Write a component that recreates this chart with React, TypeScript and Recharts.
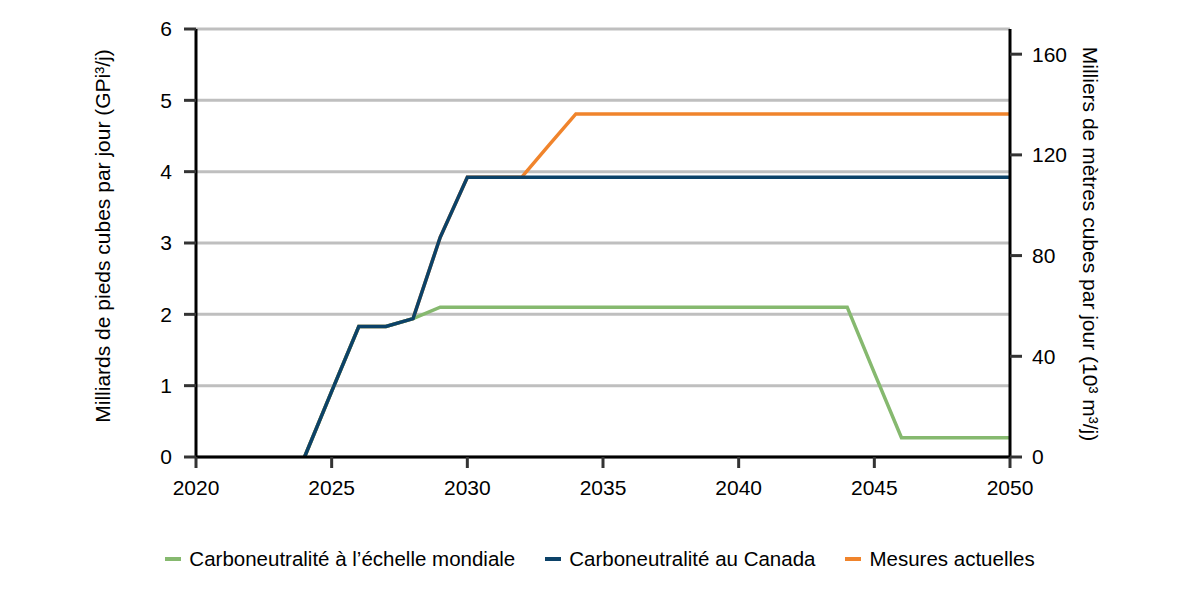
import { CartesianGrid, Label, Line, LineChart, XAxis, YAxis } from "recharts";

const YEARS = [
  2024, 2025, 2026, 2027, 2028, 2029, 2030, 2031, 2032, 2033, 2034, 2035, 2036, 2037,
  2038, 2039, 2040, 2041, 2042, 2043, 2044, 2045, 2046, 2047, 2048, 2049, 2050,
];
const MONDIALE = [
  0, 0.92, 1.83, 1.83, 1.94, 2.1, 2.1, 2.1, 2.1, 2.1, 2.1, 2.1, 2.1, 2.1,
  2.1, 2.1, 2.1, 2.1, 2.1, 2.1, 2.1, 1.18, 0.27, 0.27, 0.27, 0.27, 0.27,
];
const CANADA = [
  0, 0.92, 1.83, 1.83, 1.94, 3.08, 3.92, 3.92, 3.92, 3.92, 3.92, 3.92, 3.92, 3.92,
  3.92, 3.92, 3.92, 3.92, 3.92, 3.92, 3.92, 3.92, 3.92, 3.92, 3.92, 3.92, 3.92,
];
const ACTUELLES = [
  0, 0.92, 1.83, 1.83, 1.94, 3.08, 3.92, 3.92, 3.92, 4.37, 4.81, 4.81, 4.81, 4.81,
  4.81, 4.81, 4.81, 4.81, 4.81, 4.81, 4.81, 4.81, 4.81, 4.81, 4.81, 4.81, 4.81,
];
const X_TICKS = [2020, 2025, 2030, 2035, 2040, 2045, 2050];
const LEFT_TICKS = [0, 1, 2, 3, 4, 5, 6];
const RIGHT_TICKS = [0, 40, 80, 120, 160];

const SERIES = [
  { key: "mondiale", name: "Carboneutralité à l’échelle mondiale", color: "#86b96f" },
  { key: "canada", name: "Carboneutralité au Canada", color: "#0c4268" },
  { key: "actuelles", name: "Mesures actuelles", color: "#f0842c" },
];

const data = YEARS.map((year, i) => ({
  year,
  mondiale: MONDIALE[i],
  canada: CANADA[i],
  actuelles: ACTUELLES[i],
}));

const FONT = "'Liberation Sans', Arial, sans-serif";
const tickStyle = { fill: "#000", fontSize: 21, fontFamily: FONT };
const tickLine = { stroke: "#333", strokeWidth: 3 };
const axisLine = { stroke: "#000", strokeWidth: 3 };

export default function App() {
  return (
    <div style={{ position: "absolute", left: 0, top: 0, width: 1200, height: 600, background: "#fff", fontFamily: FONT }}>
      <LineChart width={1200} height={600} data={data} margin={{ top: 29, right: 0, bottom: 0, left: 0 }}>
        <CartesianGrid vertical={false} stroke="#bfbfbf" strokeWidth={3} yAxisId="left" />
        <XAxis
          dataKey="year"
          type="number"
          domain={[2020, 2050]}
          ticks={X_TICKS}
          height={143}
          tickSize={11}
          tickMargin={12}
          tick={tickStyle}
          tickLine={tickLine}
          axisLine={axisLine}
        />
        <YAxis
          yAxisId="left"
          domain={[0, 6]}
          ticks={LEFT_TICKS}
          width={196}
          tickSize={12}
          tickMargin={12}
          tick={tickStyle}
          tickLine={tickLine}
          axisLine={axisLine}
        >
          <Label
            content={() => (
              <text transform="translate(110,236) rotate(-90)" textAnchor="middle" fontSize={21} fontFamily={FONT} fill="#000">
                Milliards de pieds cubes par jour (GPi³/j)
              </text>
            )}
          />
        </YAxis>
        <YAxis
          yAxisId="right"
          orientation="right"
          domain={[0, 170]}
          ticks={RIGHT_TICKS}
          allowDataOverflow
          width={190}
          tickSize={12}
          tickMargin={10}
          tick={tickStyle}
          tickLine={tickLine}
          axisLine={axisLine}
        >
          <Label
            content={() => (
              <text transform="translate(1083,244) rotate(90)" textAnchor="middle" fontSize={21} fontFamily={FONT} fill="#000">
                Milliers de mètres cubes par jour (10³ m³/j)
              </text>
            )}
          />
        </YAxis>
        {[SERIES[2], SERIES[0], SERIES[1]].map((s) => (
          <Line
            key={s.key}
            yAxisId="left"
            dataKey={s.key}
            name={s.name}
            stroke={s.color}
            strokeWidth={3.5}
            dot={false}
            activeDot={false}
            strokeLinejoin="miter"
            isAnimationActive={false}
          />
        ))}
      </LineChart>
      <div style={{ position: "absolute", top: 547, left: 0, width: 1200, display: "flex", justifyContent: "center", gap: 30, fontSize: 20.5, color: "#000", paddingLeft: 0, boxSizing: "border-box" }}>
        {SERIES.map((s) => (
          <div key={s.key} style={{ display: "flex", alignItems: "center" }}>
            <span style={{ display: "inline-block", width: 16, height: 4, background: s.color, marginRight: 8 }} />
            <span>{s.name}</span>
          </div>
        ))}
      </div>
    </div>
  );
}
